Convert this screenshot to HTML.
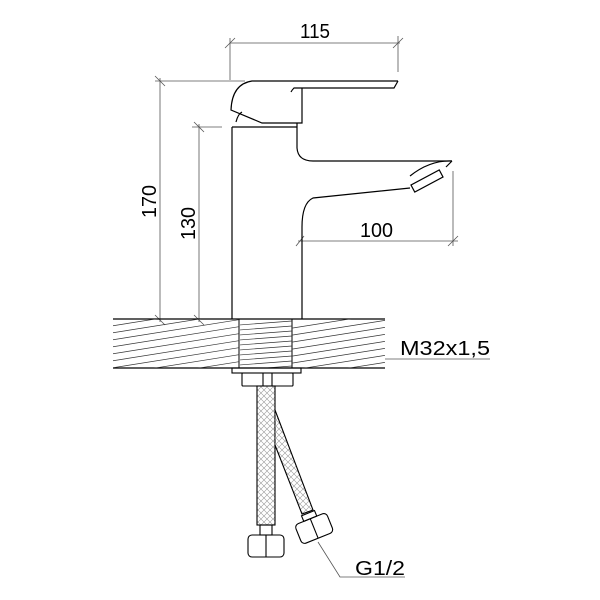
<!DOCTYPE html>
<html><head><style>body{margin:0;background:#fff}svg{display:block}</style></head><body>
<svg width="600" height="600" viewBox="0 0 600 600" xmlns="http://www.w3.org/2000/svg" font-family="Liberation Sans, sans-serif">
<defs>
<clipPath id="c1"><rect x="113" y="319" width="126" height="49"/></clipPath>
<clipPath id="c2"><rect x="292" y="319" width="93" height="49"/></clipPath>
<clipPath id="c3"><rect x="240" y="319" width="52" height="49"/></clipPath>
<pattern id="mesh" width="6" height="6" patternUnits="userSpaceOnUse"><path d="M0 0L6 6M6 0L0 6" stroke="#999" stroke-width="0.6"/></pattern>
</defs>
<g fill="none" stroke="#000" stroke-width="1.2">
<g stroke="#555" stroke-width="0.8">
<line x1="230" y1="43" x2="400" y2="43"/><line x1="230" y1="38" x2="230" y2="80"/><line x1="398" y1="36" x2="398" y2="72"/>
<line x1="225" y1="48" x2="235" y2="38"/><line x1="393" y1="48" x2="403" y2="38"/>
<line x1="160" y1="78" x2="160" y2="322"/><line x1="155" y1="81" x2="245" y2="81"/>
<line x1="155" y1="76" x2="165" y2="86"/><line x1="155" y1="315" x2="165" y2="325"/>
<line x1="199" y1="124" x2="199" y2="322"/><line x1="192" y1="127" x2="222" y2="127"/>
<line x1="194" y1="122" x2="204" y2="132"/><line x1="194" y1="315" x2="204" y2="325"/>
<line x1="298" y1="241" x2="458" y2="241"/><line x1="453" y1="171" x2="453" y2="246"/>
<line x1="296" y1="246" x2="304" y2="236"/><line x1="448" y1="246" x2="458" y2="236"/>
<line x1="385" y1="359" x2="490" y2="359"/>
<polyline points="318,542 340,577 405,577"/>
</g>
<path d="M398,81 L252,81 Q232,84 231,110 L262,123 L302,123 L302,88 L294,88 Q292,90 291,92 M302,88 L394,88 L398,81"/>
<path d="M236,122 Q238,114 242,112 M232,127 L297,127 M297,123 L297,127"/>
<path d="M232,127 L232,319 M297,127 L297,148 Q298,161 313,161 L452,161 M410,188 L313,198 Q302,203 302,227 L302,319"/>
<path d="M452,161 Q430,160 410,176 M452,161 L446,167"/>
<g transform="translate(427,181) rotate(-28)"><rect x="-16" y="-4" width="32" height="8"/></g>
<line x1="113" y1="319" x2="385" y2="319"/><line x1="113" y1="368" x2="385" y2="368"/>
<rect x="239" y="319" width="53" height="49" stroke-width="1"/>
</g>
<g stroke="#333" stroke-width="0.7">
<g clip-path="url(#c1)"><path d="M80,331L300,296M80,338L300,303M80,345L300,310M80,352L300,317M80,359L300,324M80,366L300,331M80,373L300,338M80,380L300,345M80,387L300,352M80,394L300,359M80,401L300,366M80,408L300,373"/></g>
<g clip-path="url(#c2)"><path d="M280,330L400,311M280,337L400,318M280,344L400,325M280,351L400,332M280,358L400,339M280,365L400,346M280,372L400,353M280,379L400,360M280,386L400,367M280,393L400,374"/></g>
<g clip-path="url(#c3)"><path d="M239,325L292,321M239,330L292,326M239,335L292,331M239,340L292,336M239,345L292,341M239,350L292,346M239,355L292,351M239,360L292,356M239,365L292,361M239,370L292,366"/></g>
</g>
<g fill="none" stroke="#000" stroke-width="1.1">
<rect x="232" y="368" width="69" height="5"/>
<rect x="242" y="373" width="51" height="13" rx="1"/>
<line x1="263" y1="373" x2="263" y2="386"/><line x1="272" y1="373" x2="272" y2="386"/>
<rect x="257" y="386" width="18" height="139" fill="url(#mesh)"/>
<path d="M275,410 L313,510 L302,514 L275,445" fill="url(#mesh)"/>
<rect x="260" y="525" width="12" height="10"/>
<rect x="248" y="535" width="36" height="22" rx="4"/><line x1="266" y1="535" x2="266" y2="557"/>
<g transform="translate(314,528) rotate(-22)"><rect x="-17" y="-10" width="34" height="21" rx="4"/><line x1="0" y1="-10" x2="0" y2="11"/><rect x="-7" y="-16" width="14" height="6"/></g>
</g>
<g fill="#000" font-size="20">
<text x="300" y="38" textLength="30" lengthAdjust="spacingAndGlyphs">115</text>
<text x="360" y="237" textLength="33" lengthAdjust="spacingAndGlyphs">100</text>
<text transform="translate(156,218) rotate(-90)" textLength="33" lengthAdjust="spacingAndGlyphs">170</text>
<text transform="translate(195,240) rotate(-90)" textLength="33" lengthAdjust="spacingAndGlyphs">130</text>
<text x="400" y="355" textLength="90" lengthAdjust="spacingAndGlyphs">M32x1,5</text>
<text x="355" y="575" textLength="50" lengthAdjust="spacingAndGlyphs">G1/2</text>
</g>
</svg>
</body></html>
